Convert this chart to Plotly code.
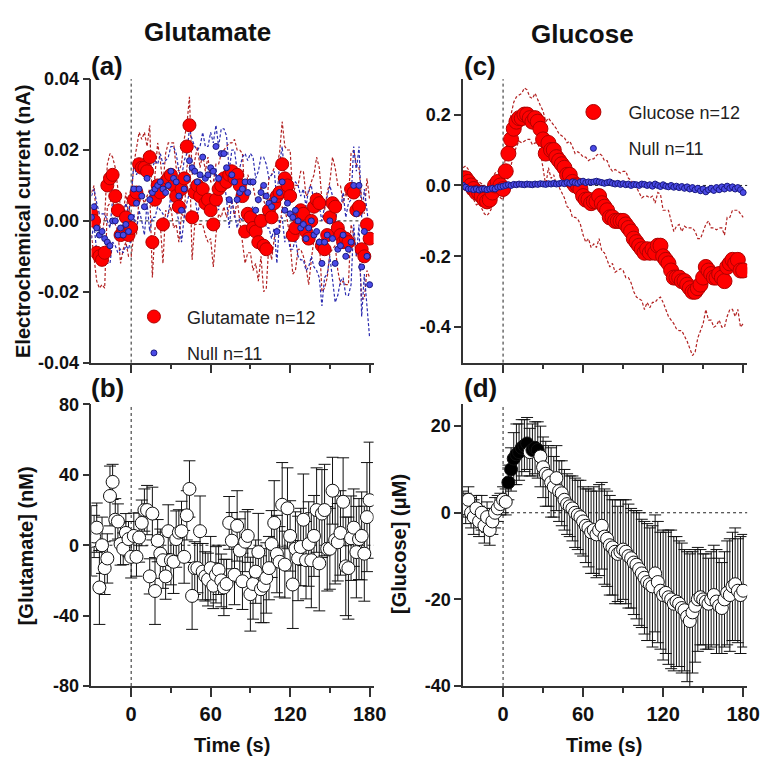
import plotly.graph_objects as go

# ---------------- data ----------------
time_s = list(range(-30, 182, 2))  # sampling times (s)

# (a) electrochemical current, glutamate sensors (nA) mean and SEM
glu_nA = [0.002, 0.0, -0.009, -0.01, -0.011, -0.009, 0.01, 0.012, 0.013, 0.007,
          0.003, -0.004, -0.003, 0.001, -0.004, -0.002, 0.006, 0.008, 0.016, 0.015,
          0.015, 0.014, 0.018, -0.006, 0.006, 0.01, 0.008, -0.001, 0.011, 0.012,
          0.013, 0.01, 0.007, 0.004, 0.009, 0.012, 0.021, 0.027, 0.001, 0.008,
          0.01, 0.007, 0.009, 0.005, 0.006, 0.003, -0.001, 0.006, 0.009, 0.01,
          0.012, 0.011, 0.013, 0.014, 0.012, 0.013, 0.01, 0.007, -0.003, 0.002,
          0.001, -0.002, -0.003, -0.006, 0.0, -0.007, -0.008, 0.003, 0.001, 0.005,
          0.007, 0.008, 0.016, 0.012, 0.01, 0.007, -0.004, -0.002, 0.001, 0.003,
          0.002, -0.003, -0.005, 0.0, 0.004, 0.006, 0.005, -0.007, -0.008, -0.004,
          0.001, 0.005, 0.004, -0.002, -0.004, -0.006, -0.005, -0.006, 0.009, 0.008,
          0.003, 0.004, -0.008, -0.01, -0.001, -0.005]
glu_nA_sem = [0.006, 0.01, 0.008, 0.009, 0.007, 0.01, 0.006, 0.007, 0.005, 0.008,
              0.006, 0.008, 0.005, 0.007, 0.006, 0.008, 0.01, 0.012, 0.009, 0.008,
              0.01, 0.007, 0.009, 0.01, 0.008, 0.012, 0.009, 0.011, 0.008, 0.01,
              0.009, 0.012, 0.008, 0.01, 0.007, 0.011, 0.006, 0.008, 0.012, 0.009,
              0.011, 0.008, 0.01, 0.009, 0.012, 0.008, 0.012, 0.01, 0.007, 0.009,
              0.008, 0.01, 0.009, 0.008, 0.011, 0.007, 0.01, 0.012, 0.009, 0.011,
              0.01, 0.012, 0.009, 0.011, 0.01, 0.013, 0.011, 0.009, 0.012, 0.01,
              0.009, 0.011, 0.012, 0.009, 0.01, 0.013, 0.011, 0.012, 0.009, 0.011,
              0.012, 0.01, 0.013, 0.011, 0.009, 0.012, 0.01, 0.013, 0.011, 0.012,
              0.01, 0.013, 0.011, 0.012, 0.014, 0.011, 0.013, 0.012, 0.01, 0.012,
              0.013, 0.011, 0.014, 0.012, 0.013, 0.011]
null_a_nA = [0.001, 0.004, -0.002, -0.004, -0.003, -0.005, -0.006, -0.007, 0.0, 0.0,
             -0.004, -0.002, -0.004, -0.001, -0.003, 0.001, 0.009, 0.005, 0.009, 0.007,
             0.004, 0.012, 0.006, 0.008, 0.009, 0.01, 0.011, 0.009, 0.008, 0.01,
             0.014, 0.012, 0.011, 0.007, 0.003, 0.009, 0.012, 0.017, 0.015, 0.014,
             0.011, 0.013, 0.018, 0.012, 0.013, 0.015, 0.014, 0.021, 0.012, 0.019,
             0.019, 0.015, 0.006, 0.013, 0.011, 0.006, 0.008, 0.009, 0.011, 0.008,
             0.011, 0.011, 0.003, 0.006, 0.008, 0.01, 0.007, 0.005, 0.004, 0.006,
             -0.003, 0.008, 0.011, 0.003, 0.005, 0.002, 0.001, 0.003, 0.0, -0.002,
             -0.001, -0.005, -0.002, 0.0, -0.004, -0.003, -0.006, -0.012, -0.006, -0.004,
             0.0, -0.005, -0.012, -0.008, -0.007, -0.004, -0.01, -0.008, -0.006, 0.01,
             0.002, 0.01, -0.013, -0.003, -0.01, -0.018]
null_a_sem = [0.006, 0.005, 0.007, 0.006, 0.005, 0.007, 0.006, 0.005, 0.006, 0.007,
              0.005, 0.006, 0.005, 0.006, 0.005, 0.006, 0.007, 0.008, 0.006, 0.007,
              0.008, 0.007, 0.009, 0.007, 0.008, 0.006, 0.008, 0.007, 0.009, 0.008,
              0.007, 0.009, 0.008, 0.007, 0.009, 0.008, 0.007, 0.009, 0.008, 0.007,
              0.009, 0.008, 0.007, 0.009, 0.008, 0.01, 0.008, 0.006, 0.009, 0.007,
              0.007, 0.009, 0.008, 0.007, 0.009, 0.008, 0.007, 0.009, 0.008, 0.009,
              0.008, 0.007, 0.009, 0.008, 0.01, 0.008, 0.009, 0.007, 0.009, 0.008,
              0.009, 0.008, 0.01, 0.009, 0.008, 0.01, 0.009, 0.008, 0.01, 0.009,
              0.01, 0.009, 0.011, 0.01, 0.009, 0.011, 0.01, 0.012, 0.01, 0.011,
              0.01, 0.012, 0.011, 0.013, 0.01, 0.012, 0.011, 0.013, 0.012, 0.011,
              0.012, 0.011, 0.014, 0.012, 0.013, 0.015]

# (b) [Glutamate] (nM) mean and SEM
glu_nM = [2.5, 5, 10, -24, 0, -13, -7.5, 28, 36, 14.5,
          13.5, 0.7, -2, 7, 3.5, -6.6, 5.3, -6.6, 4.4, 12.7,
          20, 20, -17.7, 18, -26, 2.6, -4.8, -8.5, -17.7, 8,
          -8.5, -9.4, 3.5, 7.2, 8, -6.6, 17, 32, -28.8, -13,
          -13, 8, -15, -17.7, -19.5, -13, -23, -16.8, -14, -20,
          -24, -22, 12.7, 2.6, -16.8, 11, -3, -20.5, 2, 5.3,
          -27.8, -22, -15, -3.9, -25, -23, -18.6, -13, 0.7, 12.7,
          -5, -9.4, 23, -11, 21, 5.3, -22.3, -2, -7.5, -1,
          14.5, -8.5, 0.7, -8.5, 5.3, 20, -10.3, 18, 20, -2,
          -2, 31, 3, 1.7, 7, 24.7, -12, -13, 4, 10,
          -3.9, 3.5, 5.3, -4.8, 16, 25.6]
glu_nM_sem = [20, 12, 14, 21, 16, 15, 14, 17, 10, 12,
              10, 12, 9, 11, 10, 12, 13, 11, 14, 13,
              12, 14, 10, 15, 19, 12, 14, 16, 13, 15,
              14, 18, 16, 13, 17, 15, 14, 16, 19, 15,
              14, 20, 16, 14, 15, 18, 13, 16, 14, 15,
              16, 14, 15, 16, 17, 20, 18, 16, 17, 15,
              21, 20, 18, 22, 19, 21, 20, 18, 19, 24,
              22, 20, 24, 19, 23, 20, 25, 21, 24, 22,
              26, 22, 24, 27, 23, 24, 27, 25, 26, 24,
              23, 19, 25, 22, 24, 25, 28, 29, 24, 22,
              26, 23, 25, 27, 31, 33]

# (c) electrochemical current, glucose sensors (nA) mean and SEM
glc_nA = [0.02, 0.02, 0.01, 0.0, -0.01, -0.02, -0.02, -0.03, -0.04, -0.045,
          -0.04, -0.02, 0.0, 0.01, 0.0, -0.01, 0.04, 0.09, 0.13, 0.16,
          0.18, 0.19, 0.19, 0.2, 0.2, 0.19, 0.18, 0.19, 0.18, 0.16,
          0.13, 0.09, 0.12, 0.1, 0.1, 0.08, 0.07, 0.06, 0.05, 0.03,
          0.03, 0.01, 0.0, 0.0, -0.01, -0.03, -0.04, -0.04, -0.05, -0.045,
          -0.045, -0.03, -0.05, -0.06, -0.07, -0.09, -0.09, -0.1, -0.1, -0.1,
          -0.1, -0.11, -0.12, -0.13, -0.15, -0.16, -0.17, -0.18, -0.19, -0.18,
          -0.19, -0.18, -0.19, -0.17, -0.17, -0.2, -0.21, -0.22, -0.24, -0.26,
          -0.26, -0.26, -0.27, -0.27, -0.28, -0.29, -0.3, -0.3, -0.29, -0.28,
          -0.26, -0.23, -0.24, -0.25, -0.26, -0.26, -0.25, -0.26, -0.27, -0.23,
          -0.22, -0.21, -0.22, -0.21, -0.24, -0.24]
glc_nA_sem = [0.03, 0.035, 0.035, 0.03, 0.03, 0.035, 0.03, 0.035, 0.04, 0.04,
              0.035, 0.04, 0.035, 0.03, 0.035, 0.03, 0.05, 0.06, 0.07, 0.075,
              0.07, 0.065, 0.07, 0.075, 0.07, 0.06, 0.065, 0.07, 0.06, 0.065,
              0.08, 0.09, 0.07, 0.08, 0.07, 0.08, 0.075, 0.08, 0.085, 0.09,
              0.095, 0.1, 0.09, 0.095, 0.1, 0.11, 0.12, 0.11, 0.125, 0.12,
              0.13, 0.12, 0.135, 0.13, 0.14, 0.14, 0.13, 0.145, 0.14, 0.135,
              0.14, 0.15, 0.14, 0.145, 0.15, 0.155, 0.15, 0.145, 0.16, 0.15,
              0.155, 0.15, 0.14, 0.15, 0.145, 0.13, 0.14, 0.15, 0.14, 0.13,
              0.145, 0.15, 0.14, 0.155, 0.16, 0.17, 0.18, 0.17, 0.14, 0.13,
              0.13, 0.12, 0.14, 0.13, 0.14, 0.135, 0.13, 0.14, 0.13, 0.14,
              0.13, 0.14, 0.15, 0.14, 0.16, 0.15]
null_c_nA = [0.0, -0.005, -0.01, -0.01, -0.012, -0.01, -0.013, -0.01, -0.01, -0.012,
             -0.01, -0.008, -0.01, -0.005, -0.004, -0.002, 0.0, 0.002, 0.0, 0.003,
             0.002, 0.004, 0.003, 0.002, 0.004, 0.003, 0.002, 0.004, 0.003, 0.005,
             0.004, 0.003, 0.005, 0.004, 0.006, 0.004, 0.005, 0.007, 0.005, 0.008,
             0.006, 0.01, 0.008, 0.006, 0.01, 0.012, 0.008, 0.01, 0.009, 0.01,
             0.012, 0.01, 0.008, 0.006, 0.008, 0.01, 0.006, 0.004, 0.006, 0.003,
             0.005, 0.002, 0.004, 0.0, 0.003, 0.002, 0.0, 0.004, 0.003, 0.0,
             0.002, -0.002, 0.004, 0.0, -0.003, 0.002, -0.002, -0.004, 0.0, -0.005,
             -0.002, -0.006, -0.003, -0.008, -0.004, -0.01, -0.006, -0.012, -0.008, -0.015,
             -0.01, -0.018, -0.012, -0.008, -0.014, -0.006, -0.012, -0.004, -0.01, -0.002,
             -0.008, -0.004, -0.01, -0.006, -0.012, -0.02]
null_c_sem = [0.005, 0.006, 0.005, 0.006, 0.005, 0.006, 0.005, 0.006, 0.005, 0.006,
              0.005, 0.006, 0.005, 0.006, 0.005, 0.006, 0.005, 0.006, 0.005, 0.006,
              0.006, 0.005, 0.006, 0.005, 0.006, 0.005, 0.006, 0.005, 0.006, 0.005,
              0.006, 0.005, 0.006, 0.005, 0.006, 0.005, 0.006, 0.005, 0.006, 0.005,
              0.006, 0.007, 0.006, 0.007, 0.006, 0.007, 0.006, 0.007, 0.006, 0.007,
              0.006, 0.007, 0.006, 0.007, 0.006, 0.007, 0.006, 0.007, 0.006, 0.007,
              0.007, 0.006, 0.007, 0.006, 0.007, 0.006, 0.007, 0.006, 0.007, 0.006,
              0.007, 0.006, 0.007, 0.006, 0.007, 0.006, 0.007, 0.006, 0.007, 0.006,
              0.007, 0.008, 0.007, 0.008, 0.007, 0.008, 0.007, 0.008, 0.007, 0.008,
              0.008, 0.007, 0.008, 0.007, 0.008, 0.007, 0.008, 0.007, 0.008, 0.007,
              0.008, 0.007, 0.008, 0.007, 0.008, 0.008]

# (d) [Glucose] (uM) mean, SEM and significance flag
glc_uM = [2, 1, 3, 0, -1, 1, -2, 0, -3, -1,
          -4, -2, 0, 1, 2, 3, 2.5, 7, 10, 12.5,
          13.5, 14, 15, 15.5, 16, 14, 14.5, 15, 14.5, 13,
          10.5, 9, 8.5, 7, 6, 8, 5, 4.5, 3, 2,
          1.5, 1, 0, -0.5, -1, -2, -3, -3.5, -4.5, -4,
          -5, -4, -3, -5.5, -6, -7.5, -8, -9, -9.5, -9,
          -8.5, -9, -10, -10.5, -11.5, -12, -13, -14, -15, -16,
          -16.5, -17, -14, -16, -18, -19, -18.5, -19.5, -20, -21,
          -20.5, -21, -22, -22.5, -24, -25, -23, -21.5, -20, -19.5,
          -20, -20.5, -21, -20, -19, -20.5, -21.5, -22, -20, -18.5,
          -19, -17, -16.5, -18, -19, -18]
glc_uM_sem = [3, 3.5, 3, 3.5, 4, 3, 3.5, 4, 4, 3.5,
              3.5, 3, 3.5, 3, 2.5, 3, 3, 4, 5, 6,
              7, 6.5, 6.5, 6, 6, 5.5, 6, 6, 6.5, 7,
              7, 7.5, 7, 8, 7, 7.5, 7, 7.5, 7, 7,
              7, 7.5, 8, 8, 8.5, 8, 8.5, 9, 9.5, 10,
              10, 10.5, 10, 11, 11, 11.5, 11, 12, 11, 12,
              11.5, 12, 12, 11.5, 12, 12.5, 13, 12.5, 13, 13.5,
              13, 14, 13.5, 14, 13.5, 15, 14, 15.5, 16, 15.5,
              15, 14.5, 15, 14, 15, 15.5, 14, 13, 12, 11,
              10.5, 11, 10.5, 11, 11.5, 12, 11, 10.5, 11, 12,
              13, 12.5, 13, 12, 13.5, 13]
glc_uM_sig = [0] * 17 + [1, 1, 1, 1, 1, 1, 1, 1, 0, 1, 1, 1] + [0] * 77

xtick_vals = [0, 60, 120, 180]
xtick_text = ["0", "60", "120", "180"]
xminor_vals = [30, 90, 150]
ya_vals = [-0.04, -0.02, 0.0, 0.02, 0.04]
ya_text = ["-0.04", "-0.02", "0.00", "0.02", "0.04"]
yb_vals = [-80, -40, 0, 40, 80]
yb_text = ["-80", "-40", "0", "40", "80"]
yc_vals = [-0.4, -0.2, 0.0, 0.2]
yc_text = ["-0.4", "-0.2", "0.0", "0.2"]
yd_vals = [-40, -20, 0, 20]
yd_text = ["-40", "-20", "0", "20"]

# ---------------- figure ----------------
W, H = 770, 771
FONT = "Liberation Sans, Arial, sans-serif"
AX = "#333333"
RED, RED_EDGE, RED_DASH = "#ff0000", "#b00000", "#b22222"
BLUE, BLUE_EDGE, BLUE_DASH = "#4a4ae6", "#1a1a80", "#2b2bb0"
DASH = "3px,2px"


def fx(p):
    return p / W


def fy(p):
    return 1 - p / H


def band(mean, sem, sign):
    return [m + sign * s for m, s in zip(mean, sem)]


fig = go.Figure()

# (a)
for sgn in (1, -1):
    fig.add_trace(go.Scatter(x=time_s, y=band(glu_nA, glu_nA_sem, sgn), mode="lines",
                             line=dict(color=RED_DASH, width=1.2, dash=DASH),
                             showlegend=False, xaxis="x", yaxis="y", hoverinfo="skip"))
for sgn in (1, -1):
    fig.add_trace(go.Scatter(x=time_s, y=band(null_a_nA, null_a_sem, sgn), mode="lines",
                             line=dict(color=BLUE_DASH, width=1.2, dash=DASH),
                             showlegend=False, xaxis="x", yaxis="y", hoverinfo="skip"))
fig.add_trace(go.Scatter(x=time_s, y=glu_nA, mode="markers", name="Glutamate n=12",
                         marker=dict(size=13, color=RED, line=dict(color=RED_EDGE, width=1)),
                         xaxis="x", yaxis="y", legend="legend", legendgroup="g1"))
fig.add_trace(go.Scatter(x=time_s, y=null_a_nA, mode="markers", name="Null n=11",
                         marker=dict(size=6, color=BLUE, line=dict(color=BLUE_EDGE, width=1)),
                         xaxis="x", yaxis="y", legend="legend", legendgroup="g2"))

# (b)
fig.add_trace(go.Scatter(x=time_s, y=glu_nM, mode="markers",
                         error_y=dict(type="data", array=glu_nM_sem, color="#111111",
                                      thickness=1, width=6),
                         marker=dict(size=13, color="white", line=dict(color="#111111", width=1)),
                         showlegend=False, xaxis="x2", yaxis="y2"))

# (c)
for sgn in (1, -1):
    fig.add_trace(go.Scatter(x=time_s, y=band(glc_nA, glc_nA_sem, sgn), mode="lines",
                             line=dict(color=RED_DASH, width=1.2, dash=DASH),
                             showlegend=False, xaxis="x3", yaxis="y3", hoverinfo="skip"))
for sgn in (1, -1):
    fig.add_trace(go.Scatter(x=time_s, y=band(null_c_nA, null_c_sem, sgn), mode="lines",
                             line=dict(color=BLUE_DASH, width=1, dash=DASH),
                             showlegend=False, xaxis="x3", yaxis="y3", hoverinfo="skip"))
fig.add_trace(go.Scatter(x=time_s, y=glc_nA, mode="markers", name="Glucose n=12",
                         marker=dict(size=15, color=RED, line=dict(color=RED_EDGE, width=1)),
                         xaxis="x3", yaxis="y3", legend="legend2", legendgroup="c1"))
fig.add_trace(go.Scatter(x=time_s, y=null_c_nA, mode="markers", name="Null n=11",
                         marker=dict(size=6, color=BLUE, line=dict(color=BLUE_EDGE, width=1)),
                         xaxis="x3", yaxis="y3", legend="legend2", legendgroup="c2"))

# (d)
fig.add_trace(go.Scatter(x=time_s, y=glc_uM, mode="markers",
                         error_y=dict(type="data", array=glc_uM_sem, color="#111111",
                                      thickness=1, width=6),
                         marker=dict(size=13,
                                     color=["#000000" if s else "white" for s in glc_uM_sig],
                                     line=dict(color="#111111", width=1)),
                         showlegend=False, xaxis="x4", yaxis="y4"))

xdom_l = [fx(93), fx(380)]
xdom_r = [fx(471), fx(760)]
ydom_t = [fy(362), fy(71)]
ydom_b = [fy(694), fy(405)]

xtickfont = dict(family=FONT, size=20, color="#111111", weight="bold")
ytickfont = dict(family=FONT, size=18, color="#111111", weight="bold")


def xax(dom, anchor, labels):
    return dict(domain=dom, anchor=anchor, range=[-30, 183], showline=True, linecolor=AX,
                linewidth=1.5, ticks="outside", ticklen=9, tickwidth=1.5, tickcolor=AX,
                tickmode="array", tickvals=xtick_vals, ticktext=xtick_text,
                showticklabels=labels, tickfont=xtickfont, showgrid=False, zeroline=False,
                minor=dict(tickmode="array", tickvals=xminor_vals, ticks="outside",
                           ticklen=5, tickwidth=1.5, tickcolor=AX, showgrid=False))


def yax(dom, anchor, rng, vals, text):
    return dict(domain=dom, anchor=anchor, range=rng, showline=True, linecolor=AX,
                linewidth=1.5, ticks="outside", ticklen=7, tickwidth=1.5, tickcolor=AX,
                tickmode="array", tickvals=vals, ticktext=text, tickfont=ytickfont,
                showgrid=False, zeroline=False)


legend_common = dict(bgcolor="rgba(0,0,0,0)", borderwidth=0, itemsizing="trace",
                     font=dict(family=FONT, size=18, color="#222222"),
                     tracegroupgap=10, xanchor="left", yanchor="top")

fig.update_layout(
    width=W, height=H, margin=dict(l=0, r=0, t=0, b=0),
    paper_bgcolor="white", plot_bgcolor="white",
    font=dict(family=FONT, color="#111111"),
    xaxis=xax(xdom_l, "y", False), yaxis=yax(ydom_t, "x", [-0.04, 0.04], ya_vals, ya_text),
    xaxis2=xax(xdom_l, "y2", True), yaxis2=yax(ydom_b, "x2", [-80, 80], yb_vals, yb_text),
    xaxis3=xax(xdom_r, "y3", False), yaxis3=yax(ydom_t, "x3", [-0.5, 0.3], yc_vals, yc_text),
    xaxis4=xax(xdom_r, "y4", True), yaxis4=yax(ydom_b, "x4", [-40, 25], yd_vals, yd_text),
    legend=dict(x=fx(123), y=fy(296), itemwidth=56, **legend_common),
    legend2=dict(x=fx(568), y=fy(86), itemwidth=60, **legend_common),
    showlegend=True,
)

# reference lines (t = 0 and y = 0)
for xr, yr in (("x", "y"), ("x2", "y2"), ("x3", "y3"), ("x4", "y4")):
    fig.add_shape(type="line", xref=xr, yref=yr + " domain", x0=0, x1=0, y0=0, y1=1,
                  line=dict(color="#222222", width=1, dash="dot"), layer="below")
    fig.add_shape(type="line", xref=xr + " domain", yref=yr, x0=0, x1=1, y0=0, y1=0,
                  line=dict(color="#222222", width=1, dash="dot"), layer="below")

ann = []


def text(s, x, y, size, bold=True, angle=0, xanchor="center"):
    ann.append(dict(text=s, x=fx(x), y=fy(y), xref="paper", yref="paper", showarrow=False,
                    textangle=angle, xanchor=xanchor, yanchor="middle",
                    font=dict(family=FONT, size=size, color="#111111",
                              weight="bold" if bold else "normal")))


text("Glutamate", 211, 23, 26)
text("Glucose", 593, 25, 26)
text("(a)", 91, 58, 26, xanchor="left")
text("(b)", 91, 388, 26, xanchor="left")
text("(c)", 470, 58, 26, xanchor="left")
text("(d)", 470, 388, 26, xanchor="left")
text("Electrochemical current (nA)", 24, 217, 20, angle=-90)
text("[Glutamate] (nM)", 26, 550, 20, angle=-90)
text("[Glucose] (μM)", 406, 548, 20, angle=-90)
text("Time (s)", 236, 755, 20)
text("Time (s)", 614, 755, 20)
fig.update_layout(annotations=ann)

fig.write_html("out.html", config={"displayModeBar": False},
               post_script="document.body.style.margin='0px';"
                           "document.body.style.overflow='hidden';")
